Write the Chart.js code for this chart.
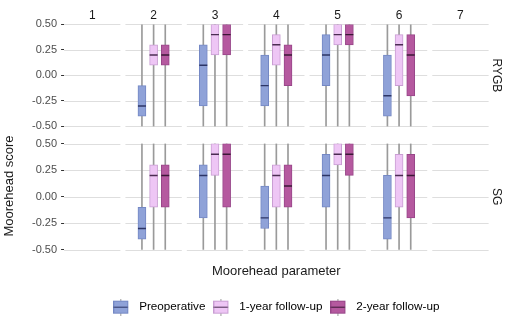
<!DOCTYPE html>
<html>
<head>
<meta charset="utf-8">
<script src="https://cdn.jsdelivr.net/npm/chart.js@4.4.1/dist/chart.umd.min.js"></script>
<style>
  body { margin: 0; background: #fff; font-family: "Liberation Sans", Arial, sans-serif; }
  #wrap { position: relative; width: 506px; height: 323px; overflow: hidden; }
  .box { position: absolute; left: 0; width: 506px; }
  #ytitle {
    position: absolute; left: -61px; top: 178px; width: 140px; height: 16px; line-height: 16px;
    text-align: center; font-size: 13px; font-weight: 400; color: #1a1a1a;
    transform: rotate(-90deg); white-space: nowrap;
  }
</style>
</head>
<body>
<div id="wrap">
  <div class="box" style="top:0;height:137px"><canvas id="chartTop"></canvas></div>
  <div class="box" style="top:133px;height:190px"><canvas id="chartBot"></canvas></div>
  <div id="ytitle">Moorehead score</div>
</div>
<script>
// Moorehead parameters (facet columns) and surgery types (facet rows)
const params = ['1', '2', '3', '4', '5', '6', '7'];
const surgeries = ['RYGB', 'SG'];
const groups = ['Preoperative', '1-year follow-up', '2-year follow-up'];
const yTicks = [-0.5, -0.25, 0, 0.25, 0.5];

// five-number summaries [low, q1, median, q3, high] per parameter, null = no data
const rygbPre = [null, [-0.5, -0.4, -0.3, -0.1, 0.5], [-0.5, -0.3, 0.1, 0.3, 0.5], [-0.5, -0.3, -0.1, 0.2, 0.5], [-0.5, -0.1, 0.2, 0.4, 0.5], [-0.5, -0.4, -0.2, 0.2, 0.5], null];
const rygb1y  = [null, [-0.5, 0.1, 0.2, 0.3, 0.5], [-0.5, 0.2, 0.4, 0.5, 0.5], [-0.5, 0.1, 0.3, 0.4, 0.5], [-0.5, 0.3, 0.4, 0.5, 0.5], [-0.5, -0.1, 0.3, 0.4, 0.5], null];
const rygb2y  = [null, [-0.5, 0.1, 0.2, 0.3, 0.5], [-0.5, 0.2, 0.4, 0.5, 0.5], [-0.5, -0.1, 0.2, 0.3, 0.5], [-0.5, 0.3, 0.4, 0.5, 0.5], [-0.5, -0.2, 0.2, 0.4, 0.5], null];
const sgPre   = [null, [-0.5, -0.4, -0.3, -0.1, 0.5], [-0.5, -0.2, 0.2, 0.3, 0.5], [-0.5, -0.3, -0.2, 0.1, 0.5], [-0.5, -0.1, 0.2, 0.4, 0.5], [-0.5, -0.4, -0.2, 0.2, 0.5], null];
const sg1y    = [null, [-0.5, -0.1, 0.2, 0.3, 0.5], [-0.5, 0.2, 0.4, 0.5, 0.5], [-0.5, -0.1, 0.2, 0.3, 0.5], [-0.5, 0.3, 0.4, 0.5, 0.5], [-0.5, -0.1, 0.2, 0.4, 0.5], null];
const sg2y    = [null, [-0.5, -0.1, 0.2, 0.3, 0.5], [-0.5, -0.1, 0.4, 0.5, 0.5], [-0.5, -0.1, 0.1, 0.3, 0.5], [-0.5, 0.2, 0.4, 0.5, 0.5], [-0.5, -0.2, 0.2, 0.4, 0.5], null];

const fills   = ['#8fa2d8', '#eec6f5', '#b5599f'];
const borders = ['#7488c4', '#c99ed3', '#984689'];
const medCols = ['#2c3566', '#4b2c52', '#3b1736'];
const whiskerCol = '#9a9a9a';
const gridCol = '#dedede';

// each facet column is 1 unit wide on the x scale
const halfPanel = 0.459;
const dodge = [-0.19, 0, 0.19];

function buildDatasets(rows) {
  const ds = [];
  rows.forEach((stats, g) => {
    const pts = [];
    stats.forEach((s, i) => { if (s) pts.push({ x: i + 1 + dodge[g], s: s }); });
    ds.push({
      type: 'bar', label: groups[g] + ' whisker', order: 3, grouped: false,
      data: pts.map(p => ({ x: p.x, y: [p.s[0], p.s[4]] })),
      backgroundColor: whiskerCol, borderWidth: 0, barThickness: 1
    });
    ds.push({
      type: 'bar', label: groups[g], order: 2, grouped: false,
      data: pts.map(p => ({ x: p.x, y: [p.s[1], p.s[3]] })),
      backgroundColor: fills[g], borderColor: borders[g], borderWidth: 1,
      borderSkipped: false, barThickness: 8
    });
    ds.push({
      type: 'scatter', label: groups[g] + ' median', order: 1,
      data: pts.map(p => ({ x: p.x, y: p.s[2] })),
      pointStyle: 'line', pointRadius: 4, pointHoverRadius: 4,
      pointBorderColor: medCols[g], pointBorderWidth: 1.4
    });
  });
  return ds;
}

// horizontal grid lines drawn separately in every facet panel
const panelGrid = {
  id: 'panelGrid',
  beforeDatasetsDraw(chart) {
    const { ctx, scales: { x, y } } = chart;
    ctx.save();
    ctx.strokeStyle = gridCol;
    ctx.lineWidth = 1;
    yTicks.forEach(t => {
      const py = Math.round(y.getPixelForValue(t)) + 0.5;
      params.forEach((p, i) => {
        ctx.beginPath();
        ctx.moveTo(x.getPixelForValue(i + 1 - halfPanel), py);
        ctx.lineTo(x.getPixelForValue(i + 1 + halfPanel), py);
        ctx.stroke();
      });
    });
    ctx.restore();
  }
};

// legend key: small box plot, left-aligned in a 20px wide image
function legendGlyph(g) {
  const c = document.createElement('canvas');
  c.width = 20; c.height = 17;
  const cx = c.getContext('2d');
  cx.fillStyle = whiskerCol;
  cx.fillRect(7, 0, 1, 17);
  cx.fillStyle = fills[g];
  cx.fillRect(0.5, 2.5, 14, 12);
  cx.strokeStyle = borders[g];
  cx.lineWidth = 1;
  cx.strokeRect(0.5, 2.5, 14, 12);
  cx.strokeStyle = medCols[g];
  cx.beginPath();
  cx.moveTo(0.5, 8.5);
  cx.lineTo(14.5, 8.5);
  cx.stroke();
  return c;
}

function makeChart(id, rows, surgery, isTop) {
  return new Chart(document.getElementById(id), {
    type: 'bar',
    data: { datasets: buildDatasets(rows) },
    plugins: [panelGrid],
    options: {
      responsive: true,
      maintainAspectRatio: false,
      animation: false,
      devicePixelRatio: 1,
      layout: { padding: { left: 28, right: 0, top: isTop ? 6 : 5, bottom: 0 } },
      plugins: {
        tooltip: { enabled: false },
        legend: {
          display: !isTop,
          position: 'bottom',
          fullSize: false,
          labels: {
            usePointStyle: true,
            pointStyleWidth: 20,
            padding: 8,
            font: { size: 11.7, family: 'Liberation Sans' },
            color: '#1a1a1a',
            generateLabels: () => groups.map((name, g) => ({
              text: name, pointStyle: legendGlyph(g), fillStyle: fills[g],
              strokeStyle: borders[g], lineWidth: 0, hidden: false, datasetIndex: g * 3 + 1
            }))
          }
        }
      },
      scales: {
        x: {
          type: 'linear',
          offset: false,
          position: isTop ? 'top' : 'bottom',
          min: 1 - halfPanel,
          max: params.length + halfPanel,
          afterBuildTicks: (s) => { s.ticks = params.map((p, i) => ({ value: i + 1 })); },
          ticks: {
            display: isTop,
            callback: (v) => params[v - 1],
            font: { size: 12, family: 'Liberation Sans' },
            color: '#1a1a1a',
            padding: 2,
            maxRotation: 0
          },
          grid: { display: false, drawTicks: false },
          border: { display: false },
          title: {
            display: !isTop,
            text: 'Moorehead parameter',
            font: { size: 13, family: 'Liberation Sans' },
            color: '#1a1a1a',
            padding: { top: 14, bottom: 14 }
          }
        },
        y: {
          type: 'linear',
          min: -0.5,
          max: 0.5,
          afterBuildTicks: (s) => { s.ticks = yTicks.map(v => ({ value: v })); },
          ticks: {
            callback: (v) => v.toFixed(2),
            font: { size: 11, family: 'Liberation Sans' },
            color: '#4d4d4d',
            padding: 4
          },
          grid: { drawOnChartArea: false, tickLength: 3, color: '#333333' },
          border: { display: false }
        },
        strip: {
          type: 'linear',
          position: 'right',
          ticks: { display: false },
          grid: { display: false, drawTicks: false },
          border: { display: false },
          title: {
            display: true,
            text: surgery,
            font: { size: 12, family: 'Liberation Sans' },
            color: '#1a1a1a',
            padding: { top: 2, bottom: 1 }
          }
        }
      }
    }
  });
}

makeChart('chartTop', [rygbPre, rygb1y, rygb2y], surgeries[0], true);
makeChart('chartBot', [sgPre, sg1y, sg2y], surgeries[1], false);
</script>
</body>
</html>
